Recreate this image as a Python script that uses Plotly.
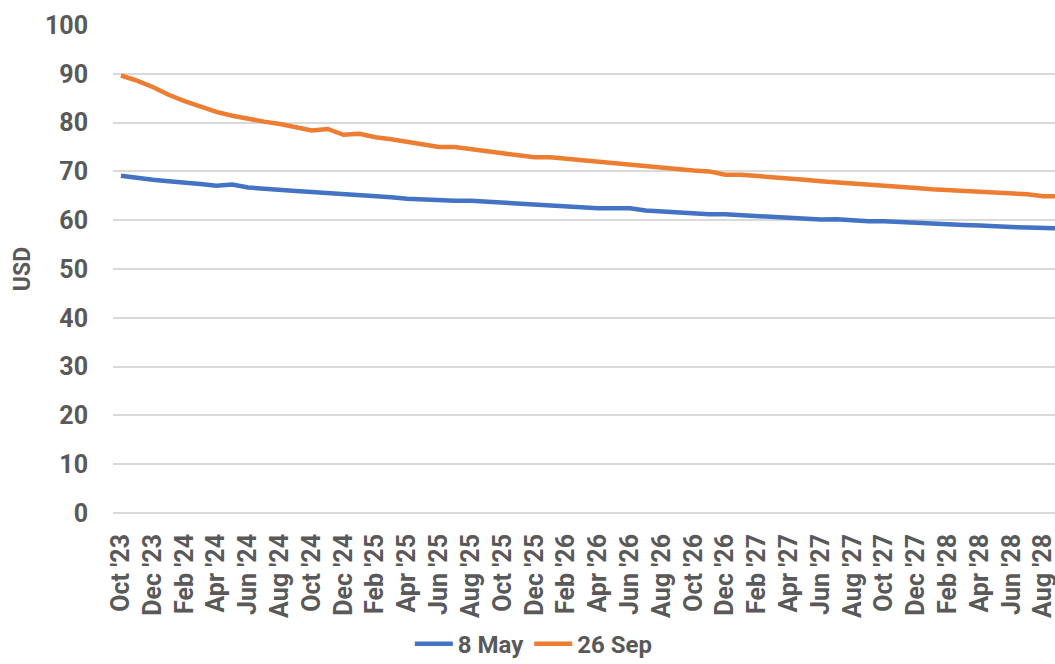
import pandas as pd
import plotly.graph_objects as go

# Monthly contract months, Oct 2023 onward
months = [f"{p.strftime('%b')} '{p.strftime('%y')}"
          for p in pd.period_range("2023-10", periods=60, freq="M")]
tick_labels = months[::2]

# Forward curve, USD — 8 May
may_8 = [69.1, 68.6, 68.3, 68.0, 67.6, 67.4, 67.05, 67.3, 66.7, 66.4,
         66.2, 66.0, 65.8, 65.6, 65.45, 65.3, 64.9, 64.7, 64.4, 64.2,
         64.2, 64.0, 64.0, 63.8, 63.5, 63.3, 63.1, 62.9, 62.7, 62.6,
         62.45, 62.45, 62.45, 62.0, 61.8, 61.6, 61.3, 61.2, 61.2, 61.0,
         60.8, 60.6, 60.4, 60.3, 60.15, 60.2, 59.9, 59.8, 59.8, 59.6,
         59.45, 59.4, 59.2, 59.0, 58.9, 58.85, 58.6, 58.5, 58.45, 58.3]

# Forward curve, USD — 26 Sep
sep_26 = [89.65, 88.6, 87.3, 85.7, 84.4, 83.3, 82.2, 81.4, 80.7, 80.2,
          79.7, 79.0, 78.4, 78.7, 77.5, 77.7, 77.0, 76.6, 76.1, 75.7,
          75.0, 75.0, 74.5, 74.1, 73.7, 73.3, 72.9, 72.9, 72.6, 72.15,
          71.9, 71.7, 71.2, 71.0, 70.8, 70.4, 70.2, 70.0, 69.3, 69.3,
          69.1, 68.7, 68.5, 68.3, 68.0, 67.8, 67.4, 67.2, 67.1, 66.9,
          66.6, 66.35, 66.2, 66.0, 65.9, 65.7, 65.5, 65.3, 64.9, 64.9]

TEXT = "#595959"
GRID = "#D9D9D9"
FONT = "Roboto"

fig = go.Figure()
fig.add_trace(go.Scatter(x=months, y=may_8, name="8 May", mode="lines",
                         line=dict(color="#4472C4", width=4.5)))
fig.add_trace(go.Scatter(x=months, y=sep_26, name="26 Sep", mode="lines",
                         line=dict(color="#ED7D31", width=4.5)))

fig.update_layout(
    width=1055, height=664,
    margin=dict(l=113, r=0, t=25, b=151, autoexpand=False),
    paper_bgcolor="white", plot_bgcolor="white",
    font=dict(family=FONT, color=TEXT),
    showlegend=True,
    legend=dict(orientation="h", xref="container", x=0.506, xanchor="center",
                yref="container", y=0.03, yanchor="middle",
                font=dict(size=24, family=FONT, color=TEXT, weight="bold"),
                itemwidth=38, tracegroupgap=0),
)

fig.update_xaxes(
    type="category", categoryorder="array", categoryarray=months,
    range=[-0.5, 58.74], automargin=False,
    tickmode="array", tickvals=tick_labels, ticktext=tick_labels,
    tickangle=-90, ticks="", ticklabelstandoff=15,
    tickfont=dict(size=25, family=FONT, color=TEXT, weight="bold"),
    showgrid=False, showline=False, zeroline=False,
)

fig.update_yaxes(
    range=[0, 100], dtick=10, tick0=0, automargin=False,
    showgrid=True, gridcolor=GRID, gridwidth=1.5,
    zeroline=True, zerolinecolor=GRID, zerolinewidth=1.5,
    showline=False, ticks="", ticklabelstandoff=24,
    tickfont=dict(size=25, family=FONT, color=TEXT, weight="bold"),
    title=dict(text="USD", standoff=7,
               font=dict(size=23, family=FONT, color=TEXT, weight="bold")),
)

fig.write_html("out.html")
